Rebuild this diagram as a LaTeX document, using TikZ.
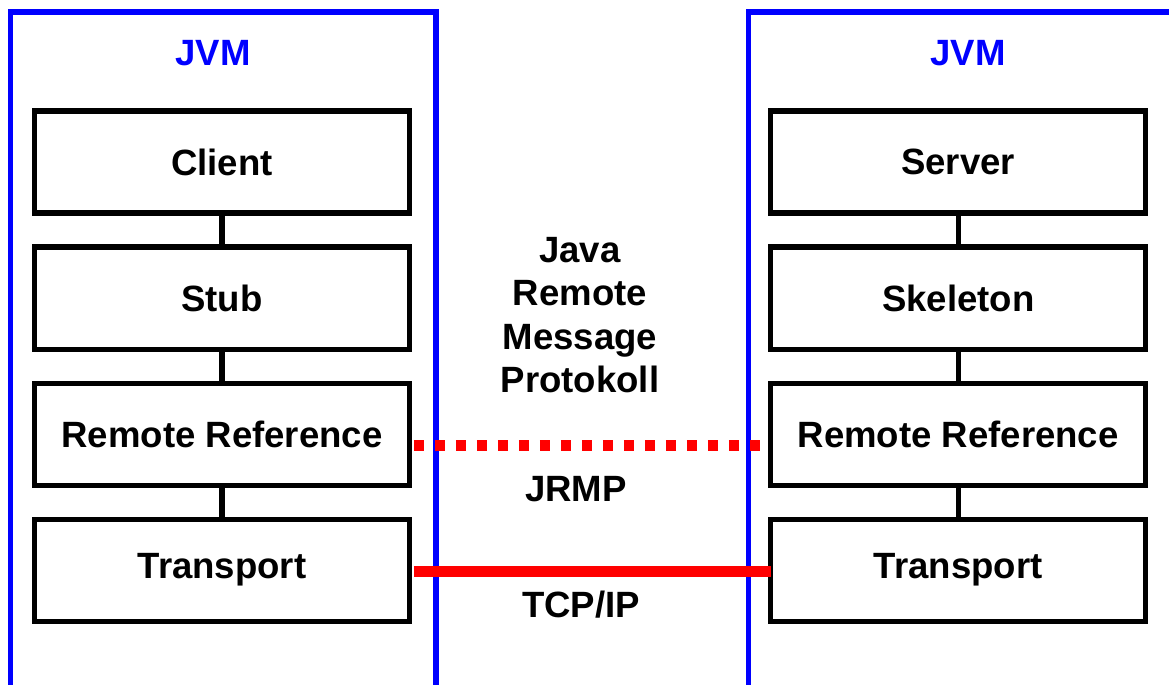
\documentclass[tikz,border=0pt]{standalone}
\usepackage{fontspec}
\setmainfont{Liberation Sans}
\usetikzlibrary{positioning, calc}

\begin{document}
\begin{tikzpicture}[x=0.025cm, y=-0.025cm, node distance=0.85cm,
    txt/.style={font=\fontsize{26}{31}\selectfont\bfseries},
    layer/.style={txt, rectangle, draw=black, line width=3.6pt, minimum width=9.36cm,
        minimum height=2.55cm, inner sep=0pt, outer sep=0pt},
    jvm/.style={draw=blue, line width=3.6pt},
    link/.style={draw=black, line width=3.6pt},
    proto/.style={draw=red, line width=7.4pt}]
    \path[use as bounding box, clip] (0,0) rectangle (1169,684);
    % the two virtual machines
    \draw[jvm] (10.5,720) |- (436,12) -- (436,720);
    \draw[jvm] (748.5,720) |- (1200,12);
    \node (jvmL) [txt, blue] at (213,53) {JVM};
    \node (jvmR) [txt, blue] at (968,53) {JVM};
    % client side
    \node (client) [layer] at (222,162) {Client};
    \node (stub) [layer, below=of client] {Stub};
    \node (refL) [layer, below=of stub] {Remote Reference};
    \node (transL) [layer, below=of refL] {Transport};
    % server side
    \node (server) [layer, right=9.04cm of client] {Server};
    \node (skel) [layer, below=of server] {Skeleton};
    \node (refR) [layer, below=of skel] {Remote Reference};
    \node (transR) [layer, below=of refR] {Transport};
    \draw[link] (client) -- (stub);
    \draw[link] (stub) -- (refL);
    \draw[link] (refL) -- (transL);
    \draw[link] (server) -- (skel);
    \draw[link] (skel) -- (refR);
    \draw[link] (refR) -- (transR);
    % protocols
    \node (jrmpTxt) [txt, align=center] at (580,315) {Java\\Remote\\Message\\Protokoll};
    \node (jrmp) [txt] at (576,489) {JRMP};
    \node (tcp) [txt] at (581,605) {TCP/IP};
    \draw[proto, line width=7.8pt, dash pattern=on 0.25cm off 0.275cm]
        ($(refL.east)+(4.5,11.5)$) -- ($(refR.west)+(-5,11.5)$);
    \draw[proto] ($(transL.east)+(4.5,1.5)$) -- ($(transR.west)+(0.5,1.5)$);
\end{tikzpicture}
\end{document}
